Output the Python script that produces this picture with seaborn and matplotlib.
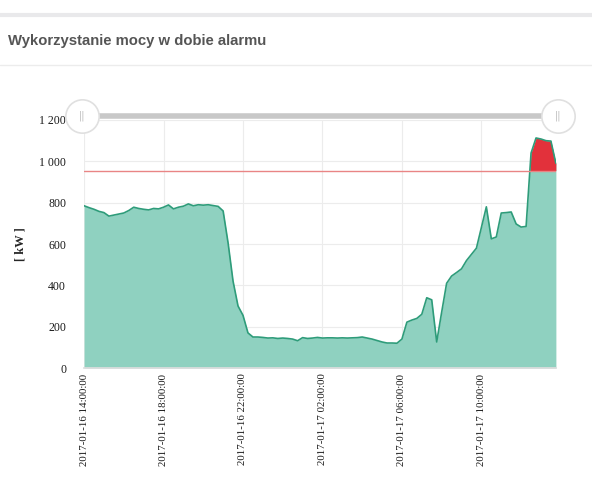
import pandas as pd
import numpy as np
import matplotlib
matplotlib.use("Agg")
import matplotlib.pyplot as plt
import matplotlib.dates as mdates
import seaborn as sns

# power readings every 15 minutes, 2017-01-16 14:00 .. 2017-01-17 13:45
start = "2017-01-16 14:00"
power_kw = [
    785, 776, 768, 758, 752, 735, 740, 745, 750, 762,
    778, 772, 768, 765, 772, 770, 778, 789, 770, 778,
    783, 794, 785, 790, 788, 790, 786, 782, 760, 605,
    420, 300, 255, 170, 150, 150, 148, 145, 146, 143,
    145, 143, 140, 132, 147, 143, 145, 148, 145, 146,
    146, 145, 146, 145, 146, 147, 150, 145, 140, 133,
    126, 121, 121, 120, 140, 222, 232, 240, 260, 340,
    330, 126, 270, 410, 445, 462, 480, 520, 550, 580,
    680, 780, 625, 634, 750, 752, 755, 697, 682, 685,
    1040, 1113, 1108, 1100, 1098, 990,
]
threshold_kw = 955
title = "Wykorzystanie mocy w dobie alarmu"
y_label = "[ kW ]"

df = pd.DataFrame({
    "time": pd.date_range(start, periods=len(power_kw), freq="15min"),
    "power": power_kw,
})

sns.set_theme(style="whitegrid")
plt.rcParams["font.family"] = ["Liberation Serif", "DejaVu Serif"]

fig = plt.figure(figsize=(5.92, 4.80), dpi=100)
ax = fig.add_axes([0.142, 0.2333, 0.797, 0.5167])

# ----------------------------
# Area + line
# ----------------------------
ax.fill_between(df["time"], 0, df["power"], color="#8fd1c0", linewidth=0, zorder=2)
ax.fill_between(
    df["time"], threshold_kw, df["power"],
    where=df["power"] > threshold_kw, interpolate=True,
    color="#e2313b", linewidth=0, zorder=3,
)
sns.lineplot(data=df, x="time", y="power", ax=ax, color="#2e9c7a", linewidth=1.2, zorder=4)
ax.axhline(threshold_kw, color="#e98585", linewidth=1, zorder=5)

ax.set_xlim(df["time"].iloc[0], df["time"].iloc[-1])
ax.set_ylim(0, 1200)
ax.set_yticks(range(0, 1201, 200))
ax.set_yticklabels([f"{v:,}".replace(",", " ") for v in range(0, 1201, 200)])

ax.xaxis.set_major_locator(mdates.HourLocator(byhour=[2, 6, 10, 14, 18, 22]))
ax.xaxis.set_major_formatter(mdates.DateFormatter("%Y-%m-%d %H:%M:%S"))
plt.setp(ax.get_xticklabels(), rotation=90, fontsize=7.8, color="#1a1a1a")
plt.setp(ax.get_yticklabels(), fontsize=8.5, color="#1a1a1a")
ax.tick_params(axis="both", length=0, pad=4)
ax.tick_params(axis="y", pad=13)

ax.set_xlabel("")
ax.set_ylabel(y_label, fontsize=9, fontweight="bold", labelpad=9)

ax.grid(True, color="#ececec", linewidth=0.8)
for s in ["top", "right", "left"]:
    ax.spines[s].set_visible(False)
ax.spines["bottom"].set_color("#dddddd")
ax.set_facecolor("white")

# ----------------------------
# Range slider above the plot
# ----------------------------
ax.plot([0, 1], [1.016, 1.016], transform=ax.transAxes, color="#c8c8c8",
        linewidth=4, clip_on=False, solid_capstyle="butt", zorder=6)
for xh in [-0.004, 1.004]:
    ax.plot([xh], [1.016], transform=ax.transAxes, marker="o", markersize=24,
            markerfacecolor="white", markeredgecolor="#e0e0e0",
            markeredgewidth=1.2, clip_on=False, zorder=7)
    ax.text(xh, 1.016, "||", transform=ax.transAxes, ha="center", va="center",
            fontsize=7, color="#bbbbbb", family="DejaVu Sans", zorder=8)

# ----------------------------
# Panel header
# ----------------------------
fig.add_artist(plt.Line2D([0, 1], [0.968, 0.968], color="#e9e9eb", linewidth=3))
fig.add_artist(plt.Line2D([0, 1], [0.864, 0.864], color="#ececec", linewidth=1))
fig.text(0.014, 0.914, title, fontsize=10.7, fontweight="bold", color="#555555",
         family=["Liberation Sans", "DejaVu Sans"], va="center")

fig.savefig("out.png", dpi=100, facecolor="white")
